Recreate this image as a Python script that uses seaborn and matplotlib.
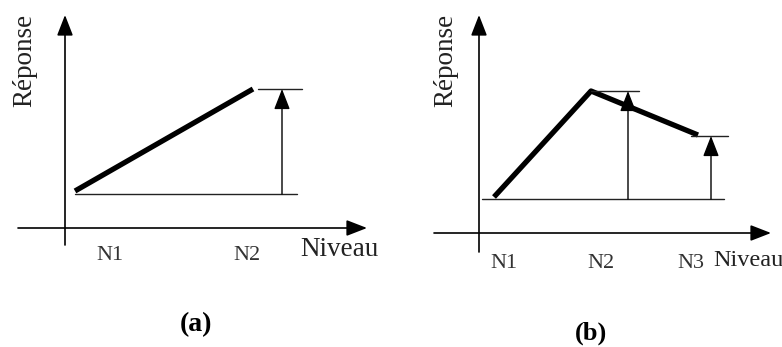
import matplotlib
matplotlib.use("Agg")
import matplotlib.pyplot as plt
import seaborn as sns

sns.set_theme(style="white")
plt.rcParams['font.family'] = ['Liberation Serif', 'DejaVu Serif']

# ---- data (schematic units) ----
# panel (a): linear response between two levels
a_level_x = [0.10, 1.88]
a_response = [0.37, 1.39]
a_base = 0.34
a_arrow_x = 2.17
a_tick_labels = ["N1", "N2"]
a_tick_x = [0.45, 1.82]

# panel (b): response rising to N2 then falling towards N3
b_level_x = [0.15, 1.12, 2.19]
b_response = [0.36, 1.42, 0.98]
b_base = 0.34
b_arrow_x = [1.49, 2.32]
b_arrow_top = [1.42, 0.97]
b_tick_labels = ["N1", "N2", "N3"]
b_tick_x = [0.25, 1.22, 2.12]

fig = plt.figure(figsize=(7.82, 3.47), dpi=100)
fig.patch.set_facecolor("white")
ax_a = fig.add_axes([0, 0, 0.5, 1])
ax_b = fig.add_axes([0.5, 0, 0.5, 1])
ax_a.set_xlim(-0.65, 3.26)
ax_a.set_ylim(-1.19, 2.28)
ax_b.set_xlim(-0.88, 3.03)
ax_b.set_ylim(-1.14, 2.33)
for ax in (ax_a, ax_b):
    ax.set_axis_off()

arrow_axis = dict(arrowstyle="-|>,head_length=0.9,head_width=0.35", color="black",
                  lw=1.2, shrinkA=0, shrinkB=0, mutation_scale=14)
arrow_thin = dict(arrowstyle="-|>,head_length=0.9,head_width=0.35", color="black",
                  lw=1.0, shrinkA=0, shrinkB=0, mutation_scale=14)
thin = dict(color="#222222", lw=1.0)
tick_font = dict(fontsize=16, color="#333333", ha="center", va="center")


def draw_axes(ax, x0, x1, y0, y1):
    ax.annotate("", xy=(x1, 0), xytext=(x0, 0), arrowprops=arrow_axis, annotation_clip=False)
    ax.annotate("", xy=(0, y1), xytext=(0, y0), arrowprops=arrow_axis, annotation_clip=False)


# ---- panel (a) ----
draw_axes(ax_a, -0.47, 3.02, -0.17, 2.13)
sns.lineplot(x=a_level_x, y=a_response, ax=ax_a, color="black", linewidth=3.8,
             solid_capstyle="butt")
ax_a.plot([a_level_x[0], 2.32], [a_base, a_base], **thin)
ax_a.plot([1.93, 2.37], [a_response[-1], a_response[-1]], **thin)
ax_a.annotate("", xy=(a_arrow_x, a_response[-1]), xytext=(a_arrow_x, a_base),
              arrowprops=arrow_thin)
for lab, x in zip(a_tick_labels, a_tick_x):
    ax_a.text(x, -0.27, lab, **tick_font)
ax_a.text(2.35, -0.22, "Niveau", fontsize=19.5, color="#222222", ha="left", va="center")
ax_a.text(-0.40, 1.68, "Réponse", fontsize=19.5, color="#222222", rotation=90,
          ha="center", va="center")
ax_a.text(1.31, -0.97, "(a)", fontsize=20, fontweight="bold", ha="center", va="center",
          color="black")

# ---- panel (b) ----
draw_axes(ax_b, -0.45, 2.92, -0.19, 2.18)
sns.lineplot(x=b_level_x, y=b_response, ax=ax_b, color="black", linewidth=3.8,
             solid_capstyle="butt", sort=False)
ax_b.plot([0.03, 2.45], [b_base, b_base], **thin)
ax_b.plot([b_level_x[1], 1.60], [b_arrow_top[0], b_arrow_top[0]], **thin)
ax_b.plot([2.12, 2.49], [b_arrow_top[1], b_arrow_top[1]], **thin)
for x, top in zip(b_arrow_x, b_arrow_top):
    ax_b.annotate("", xy=(x, top), xytext=(x, b_base), arrowprops=arrow_thin)
for lab, x in zip(b_tick_labels, b_tick_x):
    ax_b.text(x, -0.30, lab, **tick_font)
ax_b.text(2.34, -0.28, "Niveau", fontsize=17.5, color="#222222", ha="left", va="center")
ax_b.text(-0.33, 1.73, "Réponse", fontsize=19.5, color="#222222", rotation=90,
          ha="center", va="center")
ax_b.text(1.12, -1.00, "(b)", fontsize=19, fontweight="bold", ha="center", va="center",
          color="black")

fig.savefig("out.png", dpi=100, facecolor="white")
